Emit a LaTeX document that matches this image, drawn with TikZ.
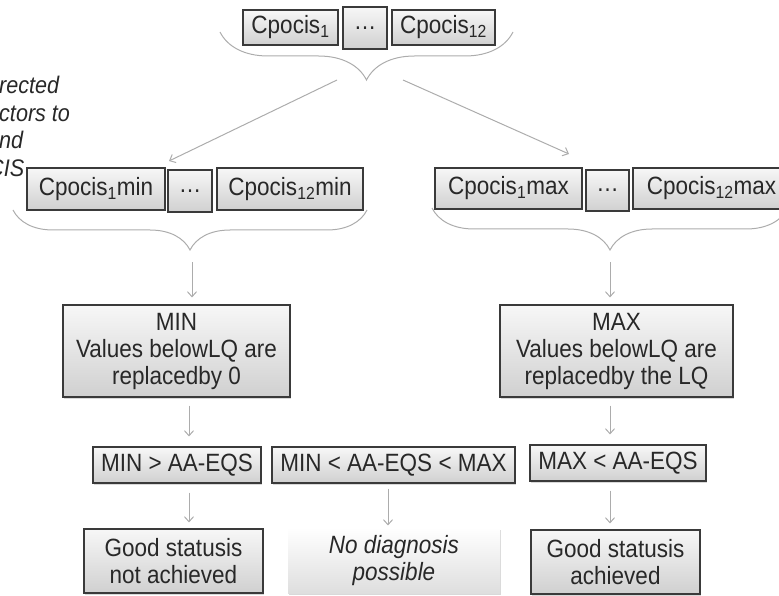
\documentclass[tikz,border=0pt]{standalone}
\usepackage{fontspec}
\setmainfont{Liberation Sans}[FakeStretch=0.9]
\definecolor{boxtop}{RGB}{247, 247, 247}
\definecolor{boxbottom}{RGB}{208, 208, 208}
\definecolor{boxline}{RGB}{58, 58, 58}
\definecolor{textgray}{RGB}{40, 40, 40}
\definecolor{linkgray}{RGB}{172, 172, 172}
\usetikzlibrary{decorations.pathreplacing, calc, arrows.meta, shadows}
\tikzset{
    every node/.style={font=\fontsize{25}{27}\selectfont, text=textgray},
    valuebox/.style={draw=boxline, line width=1.1pt, top color=boxtop,
        bottom color=boxbottom, inner sep=0pt, align=center,
        drop shadow={opacity=0.3, shadow xshift=1pt, shadow yshift=-1.5pt}},
    softbox/.style={valuebox, draw=none, top color=white,
        bottom color=boxbottom!70, font=\itshape\fontsize{25}{27}\selectfont},
    grayarrow/.style={draw=linkgray, line width=1pt,
        -{Straight Barb[length=5pt, width=9pt]}},
    graybrace/.style={draw=linkgray, line width=1pt, decorate,
        decoration={brace, mirror, amplitude=#1}},
}

\begin{document}
\begin{tikzpicture}[x=1pt, y=-1pt]
    \useasboundingbox (0, 0) rectangle (779, 596);
    \clip (0, 0) rectangle (779, 596);
    % cut-off note on the left
    \node[anchor=north west, inner sep=0pt, align=left,
        font=\itshape\fontsize{24}{27.5}\selectfont] (sidenote) at (-1, 76)
        {rected\\ctors to\\nd\\\hspace*{-11pt}CIS};
    % the twelve values
    \node[valuebox, minimum width=95pt, minimum height=35pt] (c1)
        at (290.5, 27.5) {Cpocis\textsubscript{1}};
    \node[valuebox, minimum width=44pt, minimum height=42pt] (cdots)
        at (365, 28) {\ldots};
    \node[valuebox, minimum width=103pt, minimum height=35pt] (c12)
        at (443.5, 27.5) {Cpocis\textsubscript{12}};
    \draw[graybrace=48pt] (220, 32) -- (513, 32);
    \coordinate (topl) at (337, 80);
    \coordinate (topr) at (403, 80);
    \coordinate (tipl) at (169, 161);
    \coordinate (tipr) at (569, 154);
    \draw[grayarrow] (topl) -- (tipl);
    \draw[grayarrow] (topr) -- (tipr);
    % min and max rows
    \node[valuebox, minimum width=138pt, minimum height=42pt] (cmin1)
        at (96, 189) {Cpocis\textsubscript{1}min};
    \node[valuebox, minimum width=44pt, minimum height=42pt] (mindots)
        at (190, 191) {\ldots};
    \node[valuebox, minimum width=146pt, minimum height=42pt] (cmin12)
        at (290, 189) {Cpocis\textsubscript{12}min};
    \node[valuebox, minimum width=147pt, minimum height=41pt] (cmax1)
        at (508.5, 188.5) {Cpocis\textsubscript{1}max};
    \node[valuebox, minimum width=43pt, minimum height=41pt] (maxdots)
        at (607.5, 190.5) {\ldots};
    \node[valuebox, minimum width=157pt, minimum height=41pt] (cmax12)
        at (711.5, 188.5) {Cpocis\textsubscript{12}max};
    \draw[graybrace=40pt] (13, 210) -- (367, 210);
    \draw[graybrace=42pt] (432, 208) -- (788, 208);
    % replacement rules
    \node[valuebox, minimum width=227pt, minimum height=92pt] (minbox)
        at (176.5, 351) {MIN\\Values belowLQ are\\replacedby 0};
    \node[valuebox, minimum width=233pt, minimum height=92pt] (maxbox)
        at (616.5, 351) {MAX\\Values belowLQ are\\replacedby the LQ};
    \coordinate (lowl) at (192, 262);
    \coordinate (lowr) at (610, 262);
    \draw[grayarrow, shorten >=7pt] (lowl) -- (lowl |- minbox.north);
    \draw[grayarrow, shorten >=7pt] (lowr) -- (lowr |- maxbox.north);
    % comparison with the AA-EQS
    \node[valuebox, minimum width=168pt, minimum height=36pt] (gtmin)
        at (177, 465) {MIN > AA-EQS};
    \node[valuebox, minimum width=243pt, minimum height=36pt] (between)
        at (393.5, 465) {MIN < AA-EQS < MAX};
    \node[valuebox, minimum width=176pt, minimum height=36pt] (ltmax)
        at (618, 463) {MAX < AA-EQS};
    \node[valuebox, minimum width=179pt, minimum height=64pt] (notok)
        at (173.5, 561) {Good statusis\\not achieved};
    \node[softbox, minimum width=212pt, minimum height=65pt] (nodiag)
        at (394, 560.5) {No diagnosis\\possible};
    \node[valuebox, minimum width=169pt, minimum height=64pt] (isok)
        at (615.5, 562) {Good statusis\\achieved};
    \coordinate (colmin) at (189, 0);
    \coordinate (colmid) at (388, 0);
    \coordinate (colmax) at (610, 0);
    \draw[grayarrow, shorten <=8pt, shorten >=10pt]
        (minbox.south -| colmin) -- (gtmin.north -| colmin);
    \draw[grayarrow, shorten <=8pt, shorten >=10pt]
        (maxbox.south -| colmax) -- (ltmax.north -| colmax);
    \draw[grayarrow, shorten <=9pt, shorten >=6pt]
        (gtmin.south -| colmin) -- (notok.north -| colmin);
    \draw[grayarrow, shorten <=5pt, shorten >=2pt]
        (between.south -| colmid) -- (nodiag.north -| colmid);
    \draw[grayarrow, shorten <=9pt, shorten >=6pt]
        (ltmax.south -| colmax) -- (isok.north -| colmax);
\end{tikzpicture}
\end{document}
